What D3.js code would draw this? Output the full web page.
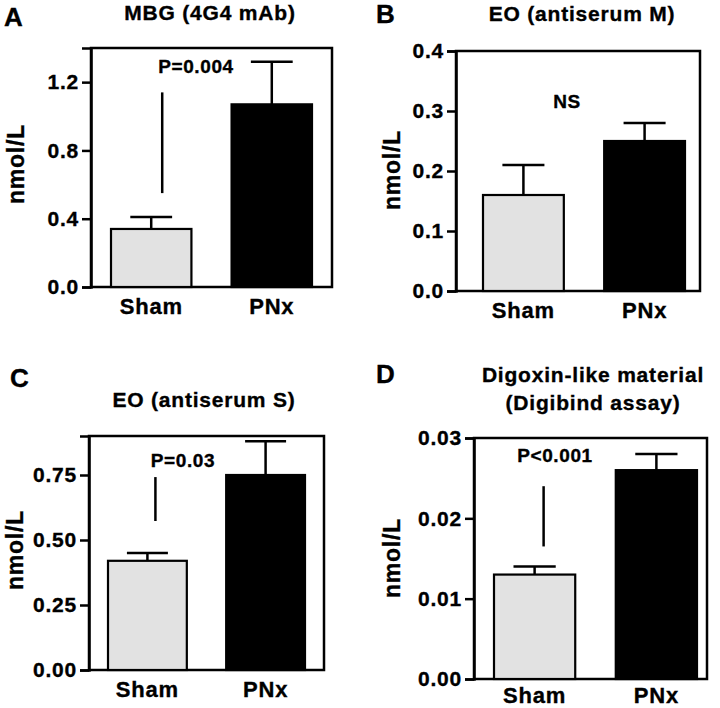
<!DOCTYPE html>
<html><head><meta charset="utf-8">
<script src="https://cdn.jsdelivr.net/npm/d3@7"></script>
<style>
html,body{margin:0;padding:0;background:#fff;}
svg text{font-family:"Liberation Sans",Arial,Helvetica,sans-serif;font-weight:bold;fill:#000;stroke:#000;stroke-width:0.35px;}
</style></head>
<body><svg id="chart" width="720" height="708"></svg>
<script>
// ---------- data ----------
const categories = ["Sham", "PNx"];
const panelLetters = ["A", "B", "C", "D"];
const panelTitles = [["MBG (4G4 mAb)"], ["EO (antiserum M)"], ["EO (antiserum S)"], ["Digoxin-like material", "(Digibind assay)"]];
const yLabel = "nmol/L";

const meansA = [0.34, 1.07];
const upperA = [0.41, 1.32];
const meansB = [0.16, 0.25];
const upperB = [0.21, 0.28];
const meansC = [0.42, 0.75];
const upperC = [0.45, 0.88];
const meansD = [0.013, 0.026];
const upperD = [0.014, 0.028];

const yMax = [1.4, 0.4, 0.9, 0.03];
const ticksA = [0.0, 0.4, 0.8, 1.2];
const ticksB = [0.0, 0.1, 0.2, 0.3, 0.4];
const ticksC = [0.0, 0.25, 0.5, 0.75];
const ticksD = [0.0, 0.01, 0.02, 0.03];
const tickLabelsA = ["0.0", "0.4", "0.8", "1.2"];
const tickLabelsB = ["0.0", "0.1", "0.2", "0.3", "0.4"];
const tickLabelsC = ["0.00", "0.25", "0.50", "0.75"];
const tickLabelsD = ["0.00", "0.01", "0.02", "0.03"];

const pTexts = ["P=0.004", "NS", "P=0.03", "P<0.001"];
const pLineA = [0.55, 1.14];
const pLineC = [0.573, 0.742];
const pLineD = [0.0165, 0.024];
const pLines = [pLineA, null, pLineC, pLineD];

const means = [meansA, meansB, meansC, meansD];
const uppers = [upperA, upperB, upperC, upperD];
const ticks = [ticksA, ticksB, ticksC, ticksD];
const tickLabels = [tickLabelsA, tickLabelsB, tickLabelsC, tickLabelsD];

// ---------- layout ----------
const layout = [
  {box:[91,332,48,287],  bars:[111,312], letter:[4,26],    title:[210,[20]],      ylab:[24,164],  ptext:[196,73],  pdx:11, xlabDy:27},
  {box:[456,700,51,291], bars:[483,685], letter:[376,23],  title:[582,[21]],      ylab:[400,170], ptext:[567,108], pdx:0,  xlabDy:27},
  {box:[89,324,436,670], bars:[108,305], letter:[10,387],  title:[204,[407]],     ylab:[23,550],  ptext:[183,467], pdx:8,  xlabDy:27},
  {box:[474,707,438,679],bars:[494,697], letter:[376,383], title:[593,[382,410]], ylab:[400,558], ptext:[555,462], pdx:9,  xlabDy:24}
];
const fills = ["#e2e2e2", "#000000"];
const LS = "0.8px";

const svg = d3.select("#chart");

layout.forEach((L, i) => {
  const [left, right, top, bottom] = L.box;
  const g = svg.append("g");
  const y = d3.scaleLinear().domain([0, yMax[i]]).range([bottom, top]);
  const x = d3.scaleBand().domain(categories).range(L.bars).paddingInner(0.333).paddingOuter(0);

  // frame
  g.append("rect").attr("x", left).attr("y", top).attr("width", right - left).attr("height", bottom - top)
    .attr("fill", "none").attr("stroke", "#000").attr("stroke-width", 2.5);

  // bars
  categories.forEach((c, j) => {
    const bx = x(c), bw = x.bandwidth(), cx = bx + bw / 2;
    const m = means[i][j], u = uppers[i][j];
    g.append("line").attr("x1", cx).attr("x2", cx).attr("y1", y(m)).attr("y2", y(u))
      .attr("stroke", "#000").attr("stroke-width", 2.5);
    g.append("line").attr("x1", cx - bw * 0.26).attr("x2", cx + bw * 0.26).attr("y1", y(u)).attr("y2", y(u))
      .attr("stroke", "#000").attr("stroke-width", 2.5);
    g.append("rect").attr("x", bx).attr("y", y(m)).attr("width", bw).attr("height", y(0) - y(m))
      .attr("fill", fills[j]).attr("stroke", "#000").attr("stroke-width", 2.2);
  });

  // y axis
  const ax = g.append("g").attr("transform", `translate(${left},0)`)
    .call(d3.axisLeft(y).tickValues(ticks[i]).tickFormat((d, k) => tickLabels[i][k]).tickSize(9).tickPadding(3));
  ax.select(".domain").attr("stroke-width", 2.5);
  ax.selectAll(".tick line").attr("stroke-width", 2.5);
  ax.selectAll(".tick text").attr("font-size", 21).style("letter-spacing", LS)
    .attr("font-family", null).attr("fill", "#000");

  // x axis
  const xa = g.append("g").attr("transform", `translate(0,${bottom})`)
    .call(d3.axisBottom(x).tickSize(0).tickPadding(L.xlabDy - 16));
  xa.select(".domain").remove();
  xa.selectAll(".tick text").attr("font-size", 22).style("letter-spacing", LS)
    .attr("font-family", null).attr("dy", "0.71em");

  // y label
  g.append("text").attr("transform", `translate(${L.ylab[0]},${L.ylab[1]}) rotate(-90)`)
    .attr("text-anchor", "middle").attr("font-size", 23).style("letter-spacing", "0.8px").text(yLabel);

  // title
  panelTitles[i].forEach((t, k) => {
    g.append("text").attr("x", L.title[0]).attr("y", L.title[1][k]).attr("text-anchor", "middle")
      .attr("font-size", 21).style("letter-spacing", LS).text(t);
  });

  // letter
  g.append("text").attr("x", L.letter[0]).attr("y", L.letter[1]).attr("font-size", 26).text(panelLetters[i]);

  // p-value annotation
  g.append("text").attr("x", L.ptext[0]).attr("y", L.ptext[1]).attr("text-anchor", "middle")
    .attr("font-size", 19).style("letter-spacing", "0.6px").text(pTexts[i]);
  if (pLines[i]) {
    const lx = x("Sham") + x.bandwidth() / 2 + L.pdx;
    g.append("line").attr("x1", lx).attr("x2", lx).attr("y1", y(pLines[i][0])).attr("y2", y(pLines[i][1]))
      .attr("stroke", "#000").attr("stroke-width", 2.5);
  }
});
</script></body></html>
